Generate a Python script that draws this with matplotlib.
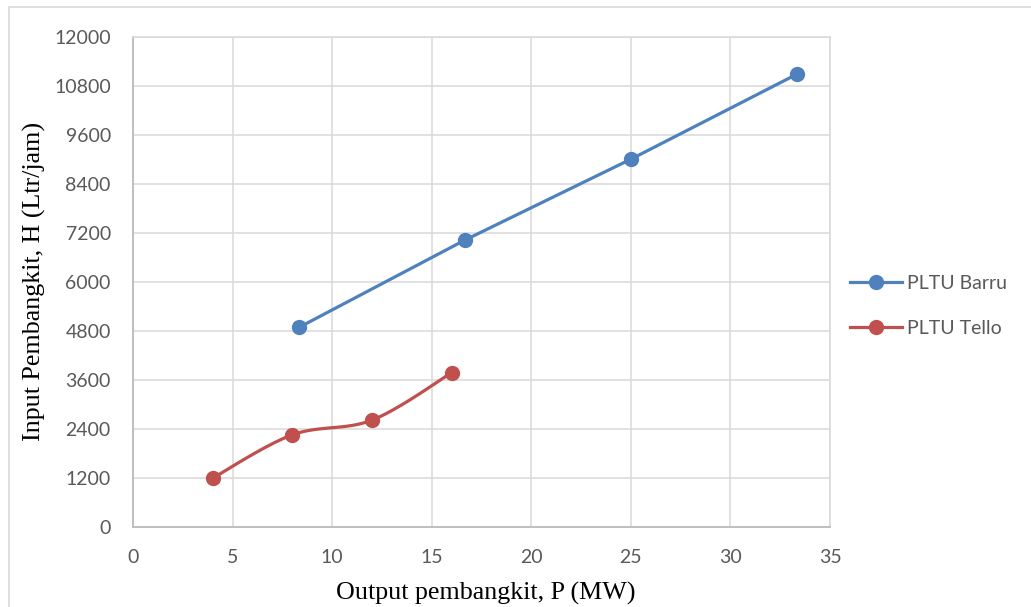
import numpy as np
import matplotlib
matplotlib.use("Agg")
import matplotlib.pyplot as plt
from matplotlib.patches import Rectangle

# ---- data ----
barru_x = [8.33, 16.67, 25.0, 33.33]
barru_y = [4880, 7020, 9000, 11080]
tello_x = [4, 8, 12, 16]
tello_y = [1190, 2250, 2610, 3770]
x_ticks = [0, 5, 10, 15, 20, 25, 30, 35]
y_ticks = [0, 1200, 2400, 3600, 4800, 6000, 7200, 8400, 9600, 10800, 12000]
series_names = ["PLTU Barru", "PLTU Tello"]
x_title = "Output pembangkit, P (MW)"
y_title = "Input Pembangkit, H (Ltr/jam)"

BLUE = "#4F81BD"
RED = "#C0504D"


def excel_smooth(xs, ys, n=40):
    """Bezier smoothing in the style of Excel's smoothed lines."""
    P = np.column_stack([xs, ys]).astype(float)
    m = len(P)
    out = []
    for i in range(m - 1):
        p0 = P[i - 1] if i > 0 else P[i]
        p1 = P[i]
        p2 = P[i + 1]
        p3 = P[i + 2] if i + 2 < m else P[i + 1]
        c1 = p1 + (p2 - p0) / 6.0
        c2 = p2 - (p3 - p1) / 6.0
        t = np.linspace(0, 1, n)[:, None]
        seg = ((1 - t) ** 3) * p1 + 3 * ((1 - t) ** 2) * t * c1 + 3 * (1 - t) * t ** 2 * c2 + t ** 3 * p2
        out.append(seg if i == 0 else seg[1:])
    s = np.vstack(out)
    return s[:, 0], s[:, 1]


W, H = 1031, 607
fig = plt.figure(figsize=(W / 100, H / 100), dpi=100)

# chart border (cropped Excel chart area)
fig.patches.append(Rectangle((8.5 / W, -0.1), 1.2, 1 - 6.5 / H + 0.1, transform=fig.transFigure,
                             fill=False, edgecolor="#d9d9d9", linewidth=1.2))

ax = fig.add_axes([133 / W, 1 - 526.7 / H, (830 - 133) / W, (526.7 - 36.7) / H])

ax.set_xlim(0, 35)
ax.set_ylim(0, 12000)
ax.set_xticks(x_ticks)
ax.set_yticks(y_ticks)
ax.grid(True, color="#d9d9d9", linewidth=1.1)
ax.set_axisbelow(True)
for s in ["top", "right"]:
    ax.spines[s].set_color("#d9d9d9")
    ax.spines[s].set_linewidth(1.1)
for s in ["left", "bottom"]:
    ax.spines[s].set_color("#bfbfbf")
    ax.spines[s].set_linewidth(1.4)
ax.tick_params(length=0, labelsize=14, labelcolor="#595959", pad=16)
for lab in ax.get_xticklabels() + ax.get_yticklabels():
    lab.set_fontfamily("Lato")

lw = 2.3
ms = 10
ax.plot(barru_x, barru_y, color=BLUE, linewidth=lw, solid_capstyle="round", zorder=3)
ax.plot(barru_x, barru_y, linestyle="none", marker="o", markersize=ms, color=BLUE, zorder=4)
sx, sy = excel_smooth(tello_x, tello_y)
ax.plot(sx, sy, color=RED, linewidth=lw, solid_capstyle="round", zorder=3)
ax.plot(tello_x, tello_y, linestyle="none", marker="o", markersize=ms, color=RED, zorder=4)

# axis titles
fig.text(486 / W, 1 - 593 / H, x_title, fontfamily="Liberation Serif", fontsize=18.7,
         color="black", ha="center", va="center")
fig.text(34 / W, 1 - 281 / H, y_title, fontfamily="Liberation Serif", fontsize=18.7,
         color="black", ha="center", va="center", rotation=90)

# legend
h1 = plt.Line2D([], [], color=BLUE, linewidth=lw, marker="o", markersize=ms)
h2 = plt.Line2D([], [], color=RED, linewidth=lw, marker="o", markersize=ms)
leg = fig.legend([h1, h2], series_names, loc="center left",
                 bbox_to_anchor=(850 / W, 1 - 306 / H), frameon=False,
                 prop={"family": "Lato", "size": 14}, labelcolor="#595959",
                 handlelength=2.65, handletextpad=0.3, labelspacing=1.45,
                 borderpad=0, borderaxespad=0)

fig.savefig("out.png", dpi=100)
